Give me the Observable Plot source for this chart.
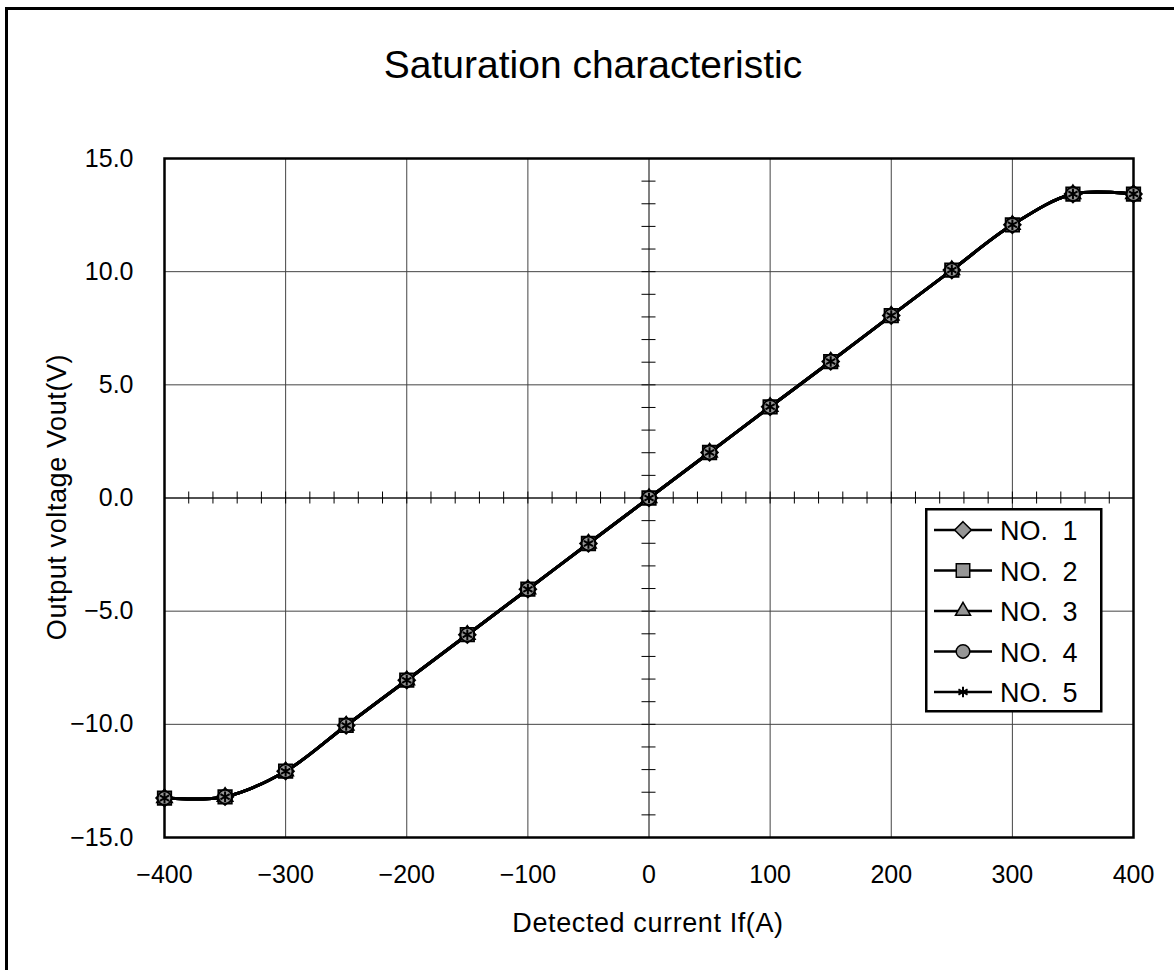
<!DOCTYPE html>
<html>
<head>
<meta charset="utf-8">
<script src="https://cdn.jsdelivr.net/npm/d3@7"></script>
<script src="https://cdn.jsdelivr.net/npm/@observablehq/plot@0.6"></script>
<style>
  html, body { margin: 0; padding: 0; background: #fff; }
  body { width: 1174px; height: 970px; position: relative; overflow: hidden;
         font-family: "Liberation Sans", "Noto Sans CJK JP", Arial, sans-serif; color: #000; }
  #frame { position: absolute; left: 5px; top: 7px; width: 1400px; height: 1200px;
           border-left: 3px solid #000; border-top: 3px solid #000; box-sizing: border-box; }
  #title { position: absolute; left: 0; width: 1186px; top: 45px; text-align: center;
           font-size: 39px; line-height: 39px; white-space: nowrap; }
  #plot { position: absolute; left: 0; top: 100px; }
  #xlabel { position: absolute; left: 648px; top: 910px; transform: translateX(-50%);
            font-size: 27px; line-height: 27px; white-space: nowrap; letter-spacing: 0.6px; }
  #ylabel { position: absolute; left: 57px; top: 497px; transform: translate(-50%, -50%) rotate(-90deg);
            font-size: 27px; line-height: 27px; white-space: nowrap; letter-spacing: 0.6px; }
  #legend { position: absolute; left: 925px; top: 508px; }
</style>
</head>
<body>
<div id="frame"></div>
<div id="title">Saturation characteristic</div>
<div id="plot"></div>
<div id="xlabel">Detected current If(A)</div>
<div id="ylabel">Output voltage Vout(V)</div>
<div id="legend"></div>
<script>
// ---- data ----
const current = [-400, -350, -300, -250, -200, -150, -100, -50, 0, 50, 100, 150, 200, 250, 300, 350, 400];
const no1 = [-13.26, -13.2, -12.07, -10.05, -8.05, -6.04, -4.03, -2.01, 0, 2.01, 4.03, 6.03, 8.06, 10.07, 12.07, 13.43, 13.43];
const no2 = [-13.26, -13.2, -12.07, -10.05, -8.05, -6.04, -4.03, -2.01, 0, 2.01, 4.03, 6.03, 8.06, 10.07, 12.07, 13.43, 13.43];
const no3 = [-13.26, -13.2, -12.07, -10.05, -8.05, -6.04, -4.03, -2.01, 0, 2.01, 4.03, 6.03, 8.06, 10.07, 12.07, 13.43, 13.43];
const no4 = [-13.26, -13.2, -12.07, -10.05, -8.05, -6.04, -4.03, -2.01, 0, 2.01, 4.03, 6.03, 8.06, 10.07, 12.07, 13.43, 13.43];
const no5 = [-13.26, -13.2, -12.07, -10.05, -8.05, -6.04, -4.03, -2.01, 0, 2.01, 4.03, 6.03, 8.06, 10.07, 12.07, 13.43, 13.43];
const seriesNames = ["NO. 1", "NO. 2", "NO. 3", "NO. 4", "NO. 5"];
const xTicks = [-400, -300, -200, -100, 0, 100, 200, 300, 400];
const yTicks = [-15, -10, -5, 0, 5, 10, 15];
const xMinorTicks = d3.range(-400, 401, 20);
const yMinorTicks = d3.range(-15, 16, 1);

// ---- styles ----
const seriesValues = [no1, no2, no3, no4, no5];
const symbols = ["diamond2", "square", "triangle", "circle", "asterisk"];
const d3Symbols = [d3.symbolDiamond2, d3.symbolSquare, d3.symbolTriangle, d3.symbolCircle, d3.symbolAsterisk];
const radii = [7.5, 7.6, 5.6, 6.8, 5];
const markerFill = "#969696";

const rows = [];
seriesNames.forEach((name, s) => seriesValues[s].forEach((v, i) => rows.push({name, s, x: current[i], y: v})));

const marks = [
  Plot.gridX(xTicks, {stroke: "#444", strokeOpacity: 1, strokeWidth: 1}),
  Plot.gridY(yTicks, {stroke: "#444", strokeOpacity: 1, strokeWidth: 1}),
  Plot.ruleY([0], {stroke: "#000", strokeWidth: 1}),
  Plot.ruleX([0], {stroke: "#808080", strokeWidth: 2}),
  Plot.ruleX(xMinorTicks, {x: d => d, y1: 0, y2: 0, insetTop: -6, insetBottom: -6, stroke: "#000", strokeWidth: 1}),
  Plot.ruleY(yMinorTicks, {y: d => d, x1: 0, x2: 0, insetLeft: -7, insetRight: -7, stroke: "#000", strokeWidth: 1}),
  Plot.frame({stroke: "#000", strokeWidth: 2.5}),
  Plot.axisX({ticks: xTicks, tickSize: 0, tickPadding: 28, fontSize: 25, label: null, tickFormat: d3.format("d")}),
  Plot.axisY({ticks: yTicks, tickSize: 0, tickPadding: 31, fontSize: 25, label: null, tickFormat: d3.format(".1f")})
];
seriesNames.forEach((name, s) => {
  marks.push(Plot.line(rows.filter(r => r.s === s), {x: "x", y: "y", curve: "catmull-rom", stroke: "#000", strokeWidth: 3}));
});
seriesNames.forEach((name, s) => {
  const isStroke = symbols[s] === "asterisk";
  marks.push(Plot.dot(rows.filter(r => r.s === s), {
    x: "x", y: "y", symbol: () => symbols[s], r: radii[s],
    fill: isStroke ? "none" : markerFill, stroke: "#000", strokeWidth: isStroke ? 2 : 1.8
  }));
});

const chart = Plot.plot({
  width: 1174, height: 870,
  marginLeft: 164, marginRight: 41, marginTop: 58, marginBottom: 133,
  x: {domain: [-400, 400]},
  y: {domain: [-15, 15]},
  symbol: {type: "identity"},
  style: {fontFamily: '"Liberation Sans", "Noto Sans CJK JP", Arial, sans-serif', background: "transparent", color: "#000"},
  marks
});
document.getElementById("plot").appendChild(chart);

// ---- legend ----
const lw = 175, lh = 202;
const lsvg = d3.select("#legend").append("svg").attr("width", lw + 4).attr("height", lh + 4);
lsvg.append("rect").attr("x", 1.25).attr("y", 1.25).attr("width", lw).attr("height", lh)
  .attr("fill", "#fff").attr("stroke", "#000").attr("stroke-width", 2.5);
seriesNames.forEach((name, s) => {
  const cy = 22 + s * 40.5;
  const g = lsvg.append("g");
  g.append("line").attr("x1", 9).attr("x2", 67).attr("y1", cy).attr("y2", cy).attr("stroke", "#000").attr("stroke-width", 2.5);
  const isStroke = symbols[s] === "asterisk";
  g.append("path").attr("transform", `translate(38,${cy})`)
    .attr("d", d3.symbol(d3Symbols[s], Math.PI * radii[s] * radii[s])())
    .attr("fill", isStroke ? "none" : markerFill).attr("stroke", "#000").attr("stroke-width", isStroke ? 2 : 1.5);
  g.append("text").attr("x", 75).attr("y", cy + 10).attr("font-size", 27)
    .attr("font-family", '"Liberation Sans", Arial, sans-serif').attr("word-spacing", 7).text(name);
});
</script>
</body>
</html>
